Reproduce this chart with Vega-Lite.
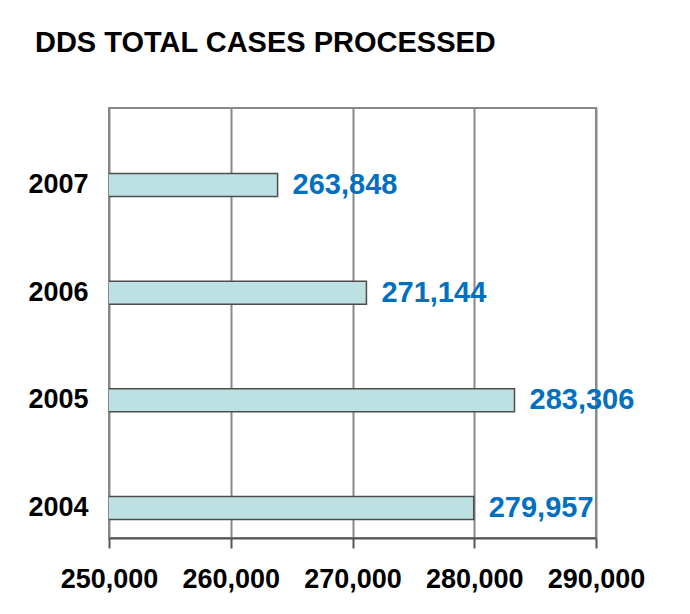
{
  "$schema": "https://vega.github.io/schema/vega-lite/v6.json",
  "width": 487,
  "height": 430,
  "padding": {"left": 27, "top": 29, "right": 5, "bottom": 5},
  "background": "#ffffff",
  "title": {
    "text": "DDS TOTAL CASES PROCESSED",
    "anchor": "start",
    "frame": "bounds",
    "dx": 7,
    "font": "Liberation Sans",
    "fontSize": 29,
    "fontWeight": "bold",
    "color": "#000000",
    "offset": 50
  },
  "data": {
    "values": [
      {"year": "2007", "cases": 263848},
      {"year": "2006", "cases": 271144},
      {"year": "2005", "cases": 283306},
      {"year": "2004", "cases": 279957}
    ]
  },
  "encoding": {
    "y": {
      "field": "year",
      "type": "nominal",
      "sort": ["2007", "2006", "2005", "2004"],
      "scale": {"paddingInner": 0.786, "paddingOuter": 0.39, "align": 0.78},
      "axis": {
        "title": null,
        "labelFont": "Liberation Sans",
        "labelFontSize": 27,
        "labelFontWeight": "bold",
        "labelColor": "#000000",
        "ticks": false,
        "domain": false,
        "grid": false,
        "labelPadding": 21
      }
    }
  },
  "layer": [
    {
      "mark": {"type": "bar", "fill": "#bde0e3", "stroke": "#4d4d4d", "strokeWidth": 1.5, "clip": true},
      "encoding": {
        "x": {
          "field": "cases",
          "type": "quantitative",
          "scale": {"domain": [250000, 290000], "zero": false},
          "axis": {
            "values": [250000, 260000, 270000, 280000, 290000],
            "format": ",d",
            "title": null,
            "labelFont": "Liberation Sans",
            "labelFontSize": 27,
            "labelFontWeight": "bold",
            "labelColor": "#000000",
            "labelPadding": 18,
            "labelFlush": false,
            "labelOverlap": false,
            "tickSize": 10,
            "tickColor": "#555555",
            "tickWidth": 2,
            "domainColor": "#555555",
            "domainWidth": 2,
            "gridColor": "#888888",
            "gridWidth": 2
          }
        }
      }
    },
    {
      "mark": {
        "type": "text",
        "align": "left",
        "baseline": "middle",
        "dx": 15,
        "font": "Liberation Sans",
        "fontSize": 29,
        "fontWeight": "bold",
        "color": "#0070c0"
      },
      "encoding": {
        "x": {"field": "cases", "type": "quantitative"},
        "text": {"field": "cases", "type": "quantitative", "format": ",d"}
      }
    }
  ],
  "config": {
    "view": {"stroke": "#888888", "strokeWidth": 2}
  }
}
